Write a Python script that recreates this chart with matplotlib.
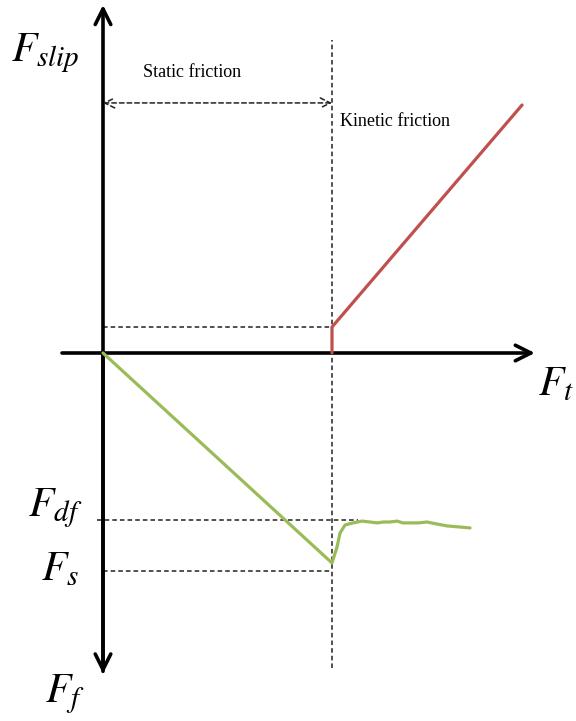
import matplotlib
matplotlib.use("Agg")
import matplotlib.pyplot as plt

plt.rcParams["mathtext.fontset"] = "stix"
plt.rcParams["font.family"] = ["Liberation Serif", "DejaVu Serif"]

# Slip threshold on the applied-force axis
F_threshold = 1.0

# Slip force curve (kinetic regime)
slip_x = [1.0, 1.0, 1.830]
slip_y = [0.0, 0.1135, 1.083]

# Friction force curve: linear static branch, then fluctuating dynamic friction
fric_x = [0.0, 1.000, 1.022, 1.035, 1.057, 1.092, 1.131, 1.166, 1.197, 1.223,
          1.253, 1.284, 1.310, 1.341, 1.376, 1.415, 1.459, 1.502, 1.559, 1.603]
fric_y = [0.0, -0.917, -0.847, -0.786, -0.751, -0.742, -0.734, -0.738, -0.742,
          -0.738, -0.738, -0.734, -0.742, -0.742, -0.742, -0.738, -0.747,
          -0.755, -0.760, -0.764]

# Reference levels
slip_start = 0.1135
F_df = -0.729
F_s = -0.952

fig = plt.figure(figsize=(5.76, 7.21), dpi=100)
ax = fig.add_axes([0, 0, 1, 1])
ax.set_xlim(-0.4498, 2.0655)
ax.set_ylim(-1.607, 1.5415)
ax.axis("off")

# Axes arrows
arrow = dict(arrowstyle="->", lw=2.6, color="black", mutation_scale=28,
             shrinkA=0, shrinkB=0)
ax.annotate("", xy=(0, 1.52), xytext=(0, -1.39), arrowprops=arrow)
ax.annotate("", xy=(0, -1.40), xytext=(0, 0.0), arrowprops=arrow)
ax.annotate("", xy=(1.886, 0), xytext=(-0.179, 0), arrowprops=arrow)

# Dashed guide lines
dash = dict(color="#222222", lw=1.1, ls=(0, (3, 2)))
ax.plot([F_threshold, F_threshold], [-1.376, 1.367], **dash)
ax.plot([0, F_threshold], [slip_start, slip_start], **dash)
ax.plot([-0.026, 1.114], [F_df, F_df], **dash)
ax.plot([0, F_threshold], [F_s, F_s], **dash)

# Static friction span
ax.annotate("", xy=(0, 1.092), xytext=(F_threshold, 1.092),
            arrowprops=dict(arrowstyle="<->", lw=1.1, color="#222222", ls=(0, (3, 2)),
                            mutation_scale=18, shrinkA=0, shrinkB=0))

# Curves
ax.plot(slip_x, slip_y, color="#c0504d", lw=2.3, solid_capstyle="round", zorder=3)
ax.plot(fric_x, fric_y, color="#9bbb59", lw=2.3, solid_capstyle="round",
        solid_joinstyle="round", zorder=3)

# Text labels
ax.text(0.389, 1.223, "Static friction", fontsize=13, ha="center", va="center")
ax.text(1.035, 1.009, "Kinetic friction", fontsize=13, ha="left", va="center")
ax.text(-0.253, 1.31, r"$F_{slip}$", fontsize=30, ha="center", va="center")
ax.text(1.90, -0.14, r"$F_t$", fontsize=30, ha="left", va="center")
ax.text(-0.21, -0.677, r"$F_{df}$", fontsize=30, ha="center", va="center")
ax.text(-0.188, -0.95, r"$F_s$", fontsize=30, ha="center", va="center")
ax.text(-0.166, -1.49, r"$F_f$", fontsize=30, ha="center", va="center")

fig.savefig("out.png", dpi=100)
